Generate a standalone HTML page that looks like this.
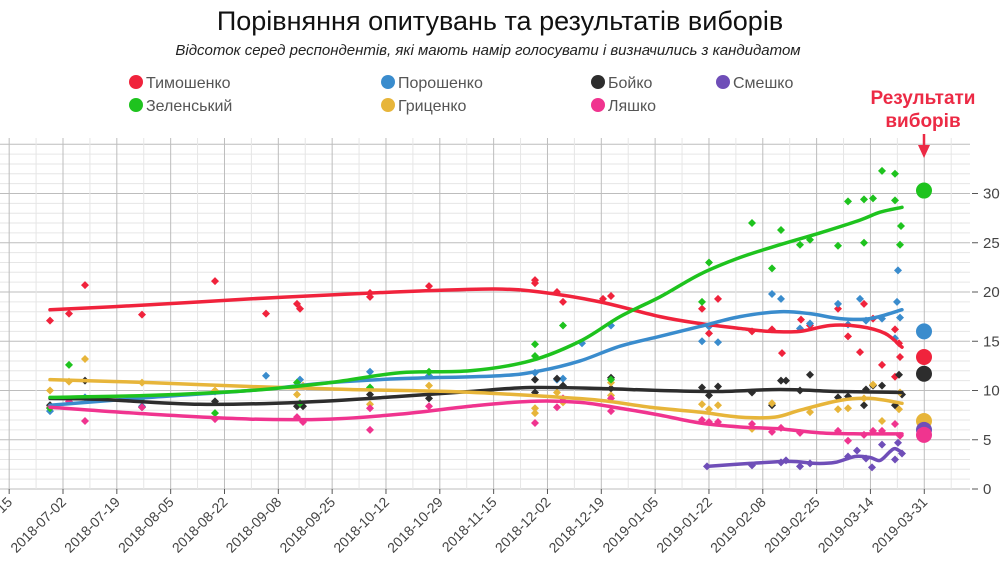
<!DOCTYPE html>
<html><head><meta charset="utf-8"><style>
body{margin:0;background:#fff;width:1000px;height:579px;overflow:hidden}
svg{display:block;font-family:"Liberation Sans",sans-serif}
</style></head><body>
<svg id="s" width="1000" height="579" xmlns="http://www.w3.org/2000/svg">
<text x="500" y="30" text-anchor="middle" font-size="27" fill="#111">Порівняння опитувань та результатів виборів</text>
<text x="488" y="55" text-anchor="middle" font-size="15" font-style="italic" fill="#222">Відсоток серед респондентів, які мають намір голосувати і визначились з кандидатом</text>
<g font-size="16" fill="#555">
<circle cx="136" cy="82" r="7" fill="#f0233c"/><text x="146" y="88">Тимошенко</text>
<circle cx="136" cy="105" r="7" fill="#1ec31e"/><text x="146" y="111">Зеленський</text>
<circle cx="388" cy="82" r="7" fill="#3a8ccd"/><text x="398" y="88">Порошенко</text>
<circle cx="388" cy="105" r="7" fill="#e7b53a"/><text x="398" y="111">Гриценко</text>
<circle cx="598" cy="82" r="7" fill="#2d2d2d"/><text x="608" y="88">Бойко</text>
<circle cx="598" cy="105" r="7" fill="#f0348f"/><text x="608" y="111">Ляшко</text>
<circle cx="723" cy="82" r="7" fill="#6f4eb8"/><text x="733" y="88">Смешко</text>
</g>
<g id="grid"></g>
<g id="data"></g>
<text x="923" y="104" text-anchor="middle" font-size="19" font-weight="bold" fill="#ec2a45">Результати</text>
<text x="923" y="127" text-anchor="middle" font-size="19" font-weight="bold" fill="#ec2a45">виборів</text>
<line x1="924" y1="134" x2="924" y2="148" stroke="#ec2a45" stroke-width="2.5"/>
<polygon points="918,145 930,145 924,158" fill="#ec2a45"/>
</svg>
<script>
const NS="http://www.w3.org/2000/svg";
const g=document.getElementById('grid'),d=document.getElementById('data');
function el(p,t,a){const e=document.createElementNS(NS,t);for(const k in a)e.setAttribute(k,a[k]);p.appendChild(e);return e;}
const Y=v=>489-9.85*v;
const L=0,R=970,T=138,B=489;
for(let v=0;v<=35;v++){el(g,'line',{x1:L,x2:R,y1:Y(v),y2:Y(v),stroke:v%5?'#e6e6e6':'#bdbdbd','stroke-width':1});}
const x0=63,sp=53.83;
for(let i=-1;i<=17;i++){let x=x0+i*sp;if(x>=L&&x<=R)el(g,'line',{x1:x,x2:x,y1:T,y2:B,stroke:'#bdbdbd','stroke-width':1});
 let xm=x+sp/2;if(xm>=L&&xm<=R)el(g,'line',{x1:xm,x2:xm,y1:T,y2:B,stroke:'#e6e6e6','stroke-width':1});}
const labs=["2018-06-15","2018-07-02","2018-07-19","2018-08-05","2018-08-22","2018-09-08","2018-09-25","2018-10-12","2018-10-29","2018-11-15","2018-12-02","2018-12-19","2019-01-05","2019-01-22","2019-02-08","2019-02-25","2019-03-14","2019-03-31"];
labs.forEach((l,i)=>{let x=x0+(i-1)*sp;el(g,'line',{x1:x,x2:x,y1:B,y2:B+5,stroke:'#555'});
 const t=el(g,'text',{x:x+4,y:B+14,'text-anchor':'end','font-size':14,fill:'#444',transform:`rotate(-45 ${x+4} ${B+14})`});t.textContent=l;});
for(let v=0;v<=30;v+=5){el(g,'line',{x1:972,x2:978,y1:Y(v),y2:Y(v),stroke:'#555'});const t=el(g,'text',{x:983,y:Y(v)+5,'font-size':15,fill:'#444'});t.textContent=v;}
const S={
red:["#f0233c",[[50,18.2],[150,18.7],[250,19.3],[350,19.8],[420,20.1],[495,20.3],[540,20],[600,19],[660,17.5],[700,16.8],[740,16.3],[770,16],[800,16],[830,16.6],[860,16.5],[885,15.8],[902,14.4]],
[[50,17.1],[69,17.8],[85,20.7],[142,17.7],[215,21.1],[266,17.8],[297,18.8],[300,18.3],[370,19.9],[370,19.5],[429,20.6],[535,21.2],[535,20.9],[557,20],[563,19],[603,19.3],[611,19.6],[702,18.3],[709,15.8],[718,19.3],[752,16],[772,16.2],[782,13.8],[801,17.2],[810,16.6],[838,18.3],[848,15.5],[860,13.9],[864,18.8],[873,17.3],[882,12.6],[895,16.2],[895,11.4],[899,14.8],[900,13.4]],13.4],
blue:["#3a8ccd",[[50,8.5],[150,9.3],[250,10],[330,10.8],[400,11.2],[500,11.5],[540,12],[580,13],[620,14.5],[660,15.5],[700,16.5],[740,17.5],[780,18],[810,17.8],[840,17.3],[870,17.3],[902,18.2]],
[[50,7.9],[85,9.3],[142,8.4],[215,9.9],[266,11.5],[300,11.1],[370,11.9],[429,11.5],[535,11.8],[557,11.1],[563,11.2],[582,14.8],[611,16.6],[702,15],[709,16.5],[718,14.9],[772,19.8],[781,19.3],[800,16.3],[810,16.8],[838,18.8],[848,16.7],[860,19.3],[866,17.1],[882,17.3],[895,15.3],[897,19],[898,22.2],[900,17.4]],16],
black:["#2d2d2d",[[50,9.2],[100,9.1],[200,8.6],[300,8.8],[400,9.4],[470,9.9],[530,10.3],[600,10.2],[660,10],[720,9.9],[780,10.1],[840,9.9],[902,9.8]],
[[50,8.5],[85,11],[142,8.3],[215,8.9],[297,8.4],[303,8.4],[370,10.2],[370,9.6],[429,9.2],[535,11.1],[535,9.8],[557,11.2],[563,10.5],[611,11.3],[611,10.2],[702,10.3],[709,9.5],[718,10.4],[752,9.8],[772,8.5],[781,11],[786,11],[800,10],[810,11.6],[838,9.3],[848,9.4],[864,8.5],[866,10.1],[873,10.5],[882,10.5],[895,8.5],[899,11.6],[902,9.6]],11.7],
gold:["#e7b53a",[[50,11.1],[150,10.8],[250,10.4],[350,10.1],[450,9.9],[530,9.5],[600,9],[650,8.3],[700,7.8],[740,7.3],[775,7.3],[800,8],[840,9],[870,9.2],[902,8.7]],
[[50,10],[69,10.9],[85,13.2],[142,10.8],[215,10],[297,9.6],[303,10.5],[370,8.6],[429,10.5],[535,8.2],[535,7.7],[557,9.8],[563,8.8],[611,10.8],[611,9.5],[702,8.6],[709,8.1],[718,8.5],[752,6.1],[772,8.7],[810,7.8],[838,8.1],[848,8.2],[864,9.2],[873,10.6],[882,6.9],[899,8.1],[900,9.8]],6.9],
purple:["#6f4eb8",[[707,2.3],[750,2.6],[790,2.8],[815,2.6],[835,2.7],[855,3.3],[870,3.2],[880,2.9],[890,3.8],[895,4.1],[902,3.7]],
[[707,2.3],[752,2.4],[781,2.7],[786,2.9],[800,2.3],[810,2.6],[848,3.3],[857,3.9],[866,3.1],[872,2.2],[882,4.5],[895,3],[898,4.7],[902,3.6]],6],
pink:["#f0348f",[[50,8.3],[150,7.6],[250,7.1],[330,7.1],[400,7.6],[470,8.4],[530,8.9],[580,8.8],[620,8.2],[660,7.5],[700,6.7],[740,6.3],[780,6.1],[820,5.7],[860,5.6],[902,5.6]],
[[50,8.3],[69,8.9],[85,6.9],[142,8.3],[215,7.1],[297,7.3],[303,6.8],[370,8.2],[370,6],[429,8.4],[535,6.7],[557,8.3],[563,9.2],[611,7.9],[611,9.2],[702,7],[709,6.8],[718,6.8],[752,6.6],[772,5.8],[781,6.2],[800,5.7],[838,5.9],[848,4.9],[864,5.5],[873,5.9],[882,5.9],[895,6.6],[900,5.4]],5.5],
green:["#1ec31e",[[50,9.3],[150,9.5],[250,10],[330,10.8],[400,11.8],[470,12],[530,13],[580,15],[620,17.5],[660,19.5],[700,21.8],[740,23.5],[780,24.8],[820,26],[860,27.3],[880,28.1],[902,28.6]],
[[50,8.2],[69,12.6],[142,9.2],[215,7.7],[297,10.8],[300,8.7],[370,10.3],[429,11.9],[535,14.7],[535,13.5],[563,16.6],[611,11.1],[702,19],[709,23],[752,27],[772,22.4],[781,26.3],[800,24.8],[810,25.3],[838,24.7],[848,29.2],[864,29.4],[864,25],[873,29.5],[882,32.3],[895,32],[895,29.3],[900,24.8],[901,26.7]],30.3]};
function smooth(p){p=p.map(q=>[q[0],Y(q[1])]);let s=`M${p[0][0]},${p[0][1]}`;
 for(let i=0;i<p.length-1;i++){const a=p[i-1]||p[i],b=p[i],c=p[i+1],e=p[i+2]||c;
 s+=` C${b[0]+(c[0]-a[0])/6},${b[1]+(c[1]-a[1])/6} ${c[0]-(e[0]-b[0])/6},${c[1]-(e[1]-b[1])/6} ${c[0]},${c[1]}`;}return s;}
for(const k in S){const [c,pts]=[S[k][0],S[k][2]];pts.forEach(p=>{const x=p[0],y=Y(p[1]);el(d,'polygon',{points:`${x},${y-4} ${x+4},${y} ${x},${y+4} ${x-4},${y}`,fill:c});});}
for(const k in S){el(d,'path',{d:smooth(S[k][1]),fill:'none',stroke:S[k][0],'stroke-width':3.5,'stroke-linecap':'round'});}
for(const k in S){el(d,'circle',{cx:924,cy:Y(S[k][3]),r:8,fill:S[k][0]});}
</script>
</body></html>
